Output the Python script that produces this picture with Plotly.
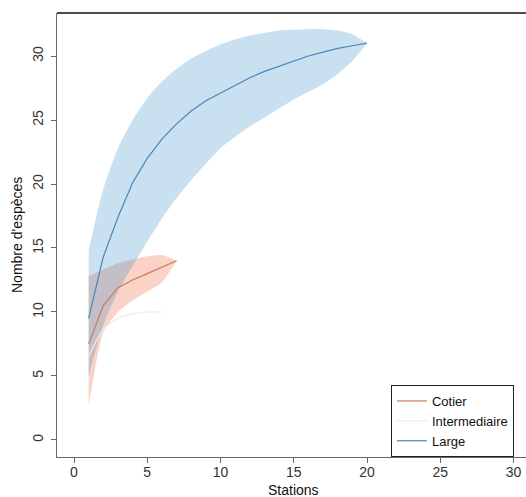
import plotly.graph_objects as go

# ---- data ----
stations_large = list(range(1, 21))
large_mean = [9.5, 14.3, 17.4, 20.1, 22.0, 23.5, 24.7, 25.7, 26.5, 27.1,
              27.7, 28.3, 28.8, 29.2, 29.6, 30.0, 30.3, 30.6, 30.8, 31.0]
large_upper = [14.8, 19.6, 22.8, 25.0, 26.7, 28.0, 29.0, 29.8, 30.4, 30.9,
               31.3, 31.6, 31.8, 32.0, 32.05, 32.1, 32.1, 32.0, 31.7, 31.0]
large_lower = [5.0, 9.0, 11.6, 13.6, 15.5, 17.3, 18.9, 20.3, 21.6, 22.8,
               23.7, 24.5, 25.2, 25.9, 26.6, 27.2, 27.8, 28.6, 29.6, 31.0]

stations_cotier = [1, 2, 3, 4, 5, 6, 7]
cotier_mean = [7.5, 10.5, 11.9, 12.5, 13.0, 13.5, 14.0]
cotier_upper = [12.8, 13.3, 13.8, 14.1, 14.35, 14.45, 14.0]
cotier_lower = [2.7, 8.4, 10.0, 10.9, 11.6, 12.3, 14.0]

stations_inter = [1, 2, 3, 4, 5, 6]
inter_mean = [6.5, 8.6, 9.5, 9.85, 10.0, 10.0]

x_ticks = [0, 5, 10, 15, 20, 25, 30]
y_ticks = [0, 5, 10, 15, 20, 25, 30]

COL_COTIER = "#c97b5c"
COL_INTER = "#f2ebe7"
COL_LARGE = "#4a86b8"

fig = go.Figure()

def band(xs, lo, hi, fillcolor):
    return go.Scatter(
        x=list(xs) + list(xs)[::-1],
        y=list(hi) + list(lo)[::-1],
        fill="toself", fillcolor=fillcolor,
        line=dict(width=0, shape="spline", smoothing=0.6),
        mode="lines", hoverinfo="skip", showlegend=False)

fig.add_trace(band(stations_cotier, cotier_lower, cotier_upper, "rgba(240,110,70,0.31)"))
fig.add_trace(band(stations_large, large_lower, large_upper, "rgba(50,140,200,0.27)"))

fig.add_trace(go.Scatter(x=stations_cotier, y=cotier_mean, mode="lines", name="Cotier",
                         line=dict(color=COL_COTIER, width=1.2)))
fig.add_trace(go.Scatter(x=stations_inter, y=inter_mean, mode="lines", name="Intermediaire",
                         line=dict(color=COL_INTER, width=1.2, shape="spline")))
fig.add_trace(go.Scatter(x=stations_large, y=large_mean, mode="lines", name="Large",
                         line=dict(color=COL_LARGE, width=1.2)))

font_family = "Liberation Sans, Arial, sans-serif"

fig.update_layout(
    width=526, height=497,
    margin=dict(l=57, r=0, t=13, b=40),
    paper_bgcolor="white", plot_bgcolor="white",
    font=dict(family=font_family, size=14, color="#222"),
    xaxis=dict(range=[-1.16, 30.85], tickvals=x_ticks, ticks="outside", ticklen=5,
               tickcolor="#666", showline=True, linecolor="#666", linewidth=1,
               showgrid=False, zeroline=False, tickfont=dict(size=14, color="#333"),
               ticklabelstandoff=-3, automargin=False),
    yaxis=dict(range=[-1.33, 33.36], tickvals=y_ticks, ticks="outside", ticklen=5,
               tickcolor="#666", showline=True, linecolor="#666", linewidth=1,
               showgrid=False, zeroline=False, tickangle=-90,
               tickfont=dict(size=14, color="#333"), ticklabelstandoff=2,
               automargin=False),
    legend=dict(x=0.712, xanchor="left", y=0, yanchor="bottom",
                bordercolor="#222", borderwidth=1, bgcolor="white",
                font=dict(size=13, color="#111"), tracegroupgap=0),
    shapes=[dict(type="line", xref="paper", yref="paper", x0=0, x1=1, y0=1, y1=1,
                 line=dict(color="#111", width=1.3))],
    annotations=[
        dict(text="Stations", xref="paper", yref="paper", x=0.505, y=0,
             xanchor="center", yanchor="top", yshift=-23, showarrow=False,
             font=dict(size=14, color="#111")),
        dict(text="Nombre d'espèces", xref="paper", yref="paper", x=0, y=0.5,
             xanchor="center", yanchor="middle", xshift=-40, textangle=-90,
             showarrow=False, font=dict(size=14, color="#111")),
    ],
)

fig.write_html(
    "out.html",
    config={"displayModeBar": False},
    post_script="document.body.style.margin='0';document.documentElement.style.overflow='hidden';",
)
